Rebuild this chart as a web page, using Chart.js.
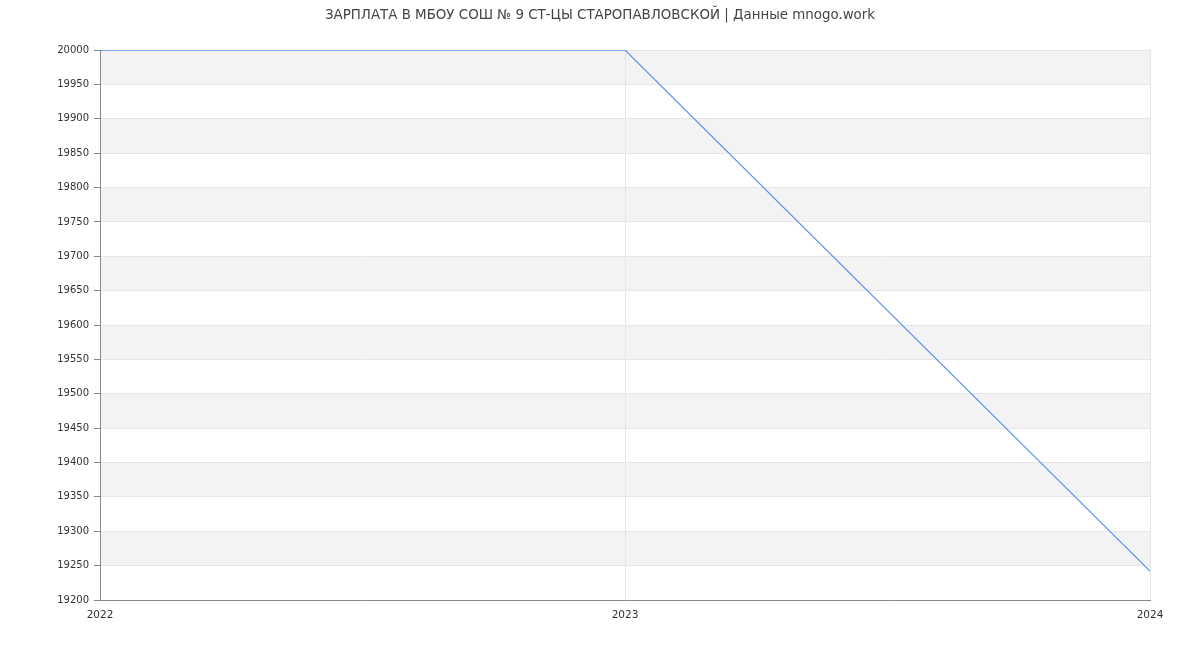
<!DOCTYPE html>
<html>
<head>
<meta charset="utf-8">
<script src="https://cdn.jsdelivr.net/npm/chart.js@4/dist/chart.umd.min.js"></script>
<style>
html,body{margin:0;padding:0;background:#fff;}
#wrap{width:1200px;height:650px;}
</style>
</head>
<body>
<div id="wrap"><canvas id="c" width="1200" height="650"></canvas></div>
<script>
const titleText = 'ЗАРПЛАТА В МБОУ СОШ № 9 СТ-ЦЫ СТАРОПАВЛОВСКОЙ | Данные mnogo.work';
const categories = ['2022', '2023', '2024'];
const salary = [20000, 20000, 19242];
const yMin = 19200, yMax = 20000, yStep = 50;

const bandPlugin = {
  id: 'bands',
  beforeDraw(chart) {
    const {ctx, chartArea, scales} = chart;
    const y = scales.y;
    ctx.save();
    ctx.fillStyle = '#f3f3f3';
    for (let v = yMin + yStep; v < yMax; v += 2 * yStep) {
      const top = y.getPixelForValue(v + yStep);
      const bot = y.getPixelForValue(v);
      ctx.fillRect(chartArea.left, top, chartArea.right - chartArea.left, bot - top);
    }
    ctx.restore();
  }
};

new Chart(document.getElementById('c'), {
  type: 'line',
  data: {
    labels: categories,
    datasets: [{
      data: salary,
      borderColor: '#5b8def',
      borderWidth: 1.2,
      pointRadius: 0,
      fill: false,
      tension: 0
    }]
  },
  options: {
    responsive: false,
    animation: false,
    devicePixelRatio: 1,
    layout: {padding: {left: 50, right: 50, top: 0, bottom: 0}},
    plugins: {
      legend: {display: false},
      tooltip: {enabled: false},
      title: {
        display: true,
        text: titleText,
        color: '#444',
        font: {family: 'DejaVu Sans', size: 13.4, weight: 'normal'},
        padding: {top: 7, bottom: 27}
      }
    },
    scales: {
      x: {
        type: 'category',
        offset: false,
        afterFit(s) { s.height = 50; },
        border: {color: '#888', width: 1},
        grid: {color: '#e6e6e6', drawTicks: false},
        ticks: {
          color: '#333',
          font: {family: 'DejaVu Sans', size: 10.5},
          padding: 9,
          maxRotation: 0
        }
      },
      y: {
        min: yMin,
        max: yMax,
        afterFit(s) { s.width = 50; },
        border: {color: '#888', width: 1},
        grid: {color: '#e6e6e6', tickColor: '#888', tickLength: 6},
        ticks: {
          stepSize: yStep,
          color: '#333',
          font: {family: 'DejaVu Sans', size: 10},
          padding: 5,
          callback: (v) => String(v)
        }
      }
    }
  },
  plugins: [bandPlugin]
});
</script>
</body>
</html>
